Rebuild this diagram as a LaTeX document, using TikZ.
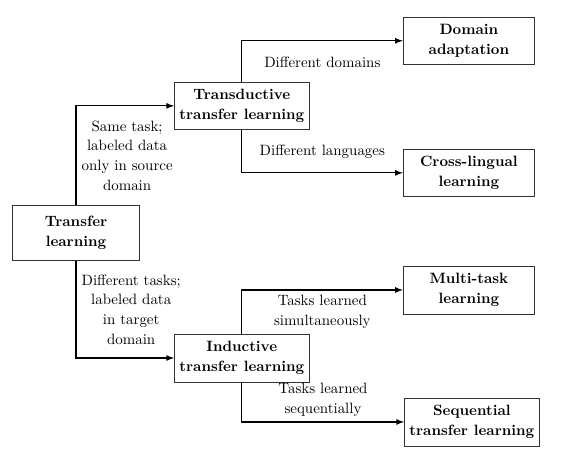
\documentclass[tikz,border=0pt]{standalone}
\usepackage{tikz}
\usetikzlibrary{arrows, positioning}
\linespread{1.1}

\begin{document}
\begin{tikzpicture}[on grid, box/.style={rectangle, draw=black!80, minimum width=88pt, minimum height=32pt, align=center, font=\bfseries}, lbl/.style={align=center}, flow/.style={-latex, thick}]

\useasboundingbox (-1.788,-5.27) rectangle (11.43,5.48);

\node[box, minimum width=85pt, minimum height=37pt] (transfer) {Transfer\\learning};
\node[box, above right=2.99cm and 3.9cm of transfer] (transductive) {Transductive\\transfer learning};
\node[box, below right=2.94cm and 3.9cm of transfer] (inductive) {Inductive\\transfer learning};
\node[box, above right=1.53cm and 5.34cm of transductive] (domain) {Domain\\adaptation};
\node[box, below right=1.576cm and 5.34cm of transductive] (crossling) {Cross-lingual\\learning};
\node[box, above right=1.6cm and 5.34cm of inductive] (multitask) {Multi-task\\learning};
\node[box, below right=1.505cm and 5.41cm of inductive, minimum width=87pt] (sequential) {Sequential\\transfer learning};

\draw[flow] (transfer.north) |- node[pos=0.25, right, lbl] {Same task;\\labeled data\\only in source\\domain} (transductive.west);
\draw[flow] (transfer.south) |- node[pos=0.25, right, lbl] {Different tasks;\\labeled data\\in target\\domain} (inductive.west);
\draw[flow] (transductive.north) |- node[pos=0.75, below=7pt] {Different domains} (domain.west);
\draw[flow] (transductive.south) |- node[pos=0.75, above=6pt] {Different languages} (crossling.west);
\draw[flow] (inductive.north) |- node[pos=0.75, below, lbl] {Tasks learned\\simultaneously} (multitask.west);
\draw[flow] (inductive.south) |- node[pos=0.75, above, lbl] {Tasks learned\\sequentially} (sequential.west);

\end{tikzpicture}
\end{document}
